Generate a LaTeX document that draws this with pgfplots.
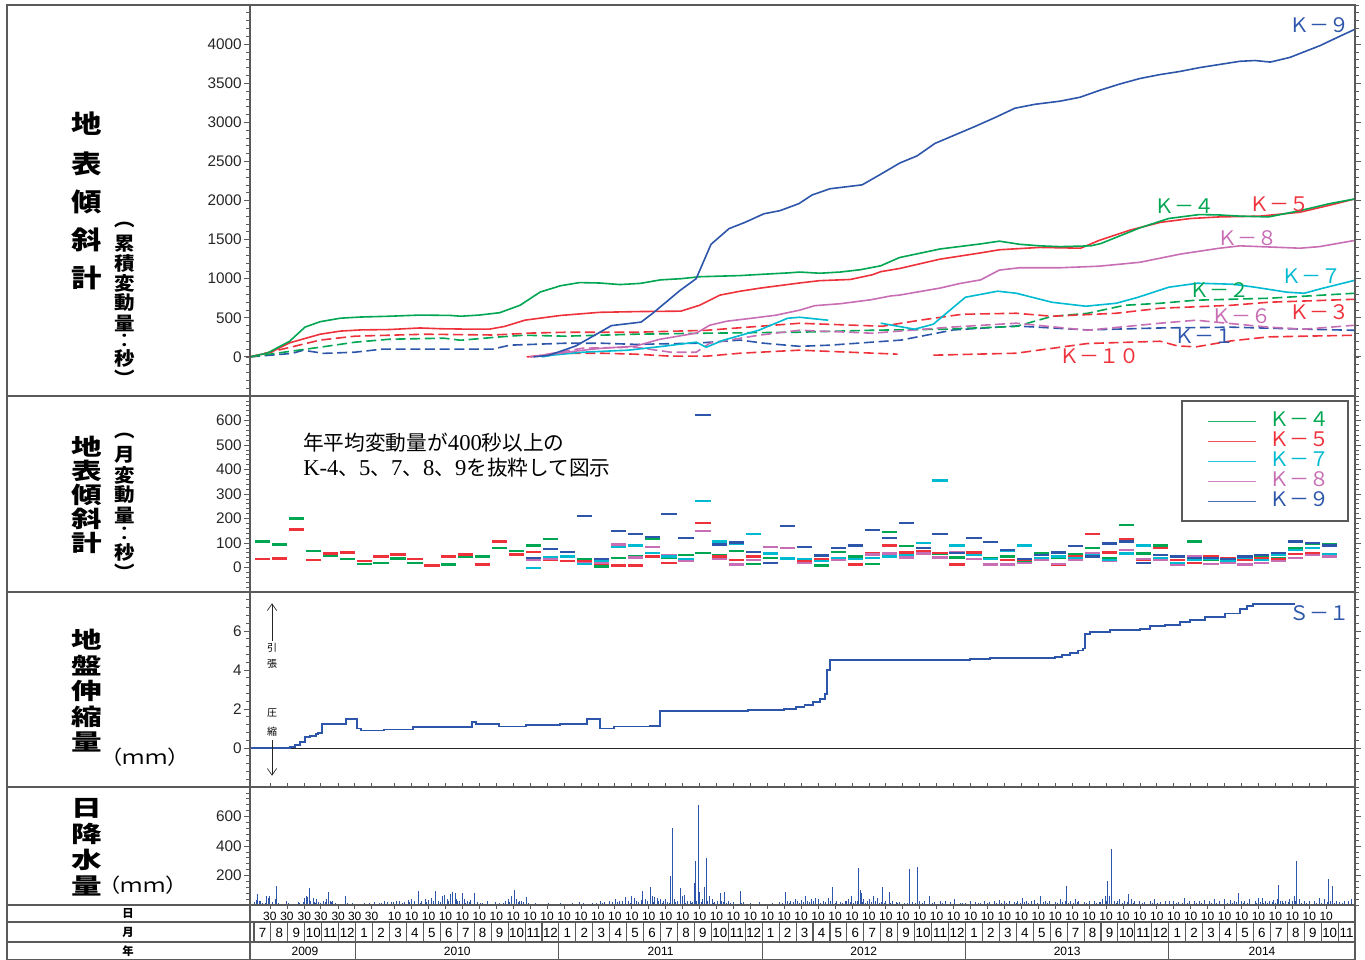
\documentclass[border=0pt]{standalone}
\usepackage{fontspec}
\setmainfont{Liberation Sans}
\newfontfamily\cjk{Noto Sans CJK JP}
\newfontfamily\serif{Liberation Serif}
\usepackage{graphicx}
\usepackage{pgfplots}
\usepackage{pgfplotstable}
\pgfplotsset{compat=1.18}
\usetikzlibrary{arrows.meta,plotmarks}

\definecolor{cg}{RGB}{0,166,81}
\definecolor{cr}{RGB}{238,50,60}
\definecolor{cc}{RGB}{0,186,210}
\definecolor{cp}{RGB}{200,110,180}
\definecolor{cb}{RGB}{45,85,170}
\definecolor{fr}{RGB}{90,90,90}

\pgfplotstableread{
x k4 k5 k7 k8 k9
0.5 106 33 nan nan nan
1.5 94 37 nan nan nan
2.5 200 155 nan nan nan
3.5 69 29 nan nan nan
4.5 49 57 nan nan nan
5.5 33 61 nan nan nan
6.5 16 25 nan nan nan
7.5 20 45 nan nan nan
8.5 37 53 nan nan nan
9.5 20 33 nan nan nan
10.5 10 8 nan nan nan
11.5 12 45 nan nan nan
12.5 45 53 nan nan nan
13.5 45 12 nan nan nan
14.5 78 106 nan nan nan
15.5 69 53 nan nan nan
16.5 90 63 -2 30 39
17.5 116 29 43 35 76
18.5 45 25 45 45 65
19.5 35 25 16 20 210
20.5 4 16 25 20 33
21.5 40 8 82 94 150
22.5 45 8 90 41 135
23.5 116 45 60 82 125
24.5 41 20 45 50 218
25.5 50 30 35 25 120
26.5 60 182 271 149 622
27.5 50 45 106 33 94
28.5 69 29 98 12 102
29.5 16 45 135 29 65
30.5 40 20 57 82 20
31.5 33 35 37 78 169
32.5 30 25 33 20 82
33.5 8 33 25 28 49
34.5 65 29 40 30 78
35.5 45 12 35 33 90
36.5 16 57 40 53 153
37.5 145 90 45 57 120
38.5 86 61 50 41 182
39.5 61 69 100 57 78
40.5 57 60 355 41 137
41.5 41 12 90 65 60
42.5 57 61 50 35 120
43.5 40 12 33 12 104
44.5 45 29 69 12 73
45.5 25 30 90 20 33
46.5 57 30 40 30 50
47.5 40 12 45 16 61
48.5 53 45 40 30 86
49.5 78 137 50 57 45
50.5 40 61 30 25 98
51.5 173 116 57 70 106
52.5 57 30 90 33 20
53.5 90 78 40 30 50
54.5 30 29 20 12 45
55.5 106 20 30 45 40
56.5 30 45 35 16 40
57.5 25 40 25 20 35
58.5 30 30 40 12 45
59.5 45 40 30 20 50
60.5 40 35 50 25 60
61.5 80 55 70 40 106
62.5 95 60 80 50 100
63.5 95 50 55 45 90
}\monthly

\pgfplotstableread{
x y
0.05 20
0.12 35
0.18 78
0.30 25
0.50 15
0.75 60
0.85 45
0.94 60
1.10 20
1.25 40
1.30 132
1.45 15
1.70 10
1.90 25
2.30 10
2.70 15
2.90 20
3.00 50
3.07 60
3.15 55
3.25 112
3.35 30
3.48 50
3.60 15
3.80 20
4.10 25
4.30 40
4.37 85
4.50 30
4.66 30
4.80 15
5.10 10
5.37 60
5.60 10
5.80 15
6.20 10
6.50 15
6.80 12
7.10 20
7.40 15
7.70 25
7.90 18
8.10 20
8.40 30
8.60 25
8.90 20
9.10 35
9.30 40
9.50 25
9.68 98
9.90 30
10.10 40
10.30 35
10.50 50
10.74 92
10.90 30
11.10 60
11.27 70
11.40 40
11.60 75
11.69 85
11.87 80
12.00 30
12.28 82
12.40 40
12.60 25
12.80 35
12.99 80
13.20 20
13.50 15
13.80 25
14.00 10
14.23 20
14.50 15
14.82 30
15.00 40
15.20 60
15.35 105
15.50 40
15.70 30
15.90 20
16.06 55
16.30 10
16.60 15
17.00 10
17.40 12
17.80 10
18.10 15
18.40 10
18.80 12
19.24 20
19.60 10
20.00 15
20.43 25
20.70 20
21.00 25
21.31 40
21.60 30
21.90 55
22.10 30
22.30 60
22.49 45
22.70 20
22.96 98
23.10 40
23.38 125
23.50 60
23.67 55
23.80 45
23.97 40
24.20 30
24.40 20
24.60 200
24.68 525
24.80 40
25.00 30
25.15 112
25.30 60
25.44 70
25.60 25
25.74 30
25.90 20
26.00 150
26.09 300
26.21 675
26.30 90
26.50 40
26.60 120
26.74 322
26.90 60
27.04 40
27.20 20
27.51 80
27.60 30
27.80 85
28.00 25
28.30 20
28.69 98
28.90 20
29.30 15
29.60 10
29.87 20
30.20 10
30.60 15
31.00 20
31.35 85
31.50 30
31.70 25
31.94 40
32.10 30
32.30 35
32.53 60
32.70 30
32.90 40
33.12 50
33.30 40
33.60 30
33.90 50
34.18 119
34.40 30
34.60 20
34.89 30
35.00 25
35.10 40
35.30 60
35.50 30
35.71 248
35.80 100
35.89 80
36.00 40
36.20 30
36.36 40
36.60 60
36.80 50
37.13 119
37.30 30
37.49 90
37.70 25
37.90 20
38.13 20
38.40 15
38.72 241
38.90 20
39.14 261
39.30 30
39.60 25
39.90 60
40.20 20
40.50 30
40.80 25
41.10 20
41.38 40
41.70 15
42.00 15
42.27 25
42.60 20
42.90 15
43.15 30
43.40 20
43.70 25
44.04 35
44.30 30
44.63 30
44.90 20
45.10 25
45.34 50
45.60 30
45.90 25
46.10 35
46.46 64
46.70 30
46.99 30
47.30 20
47.60 40
47.99 132
48.20 30
48.47 40
48.70 25
49.00 20
49.35 30
49.60 25
49.94 20
50.10 40
50.25 60
50.41 166
50.50 60
50.65 383
50.80 30
51.00 30
51.12 40
51.40 25
51.65 78
51.80 40
52.00 30
52.30 30
52.60 20
52.90 25
53.19 40
53.50 20
53.80 25
54.07 30
54.30 25
54.60 20
54.96 45
55.20 30
55.50 25
55.84 30
56.10 35
56.40 25
56.73 40
57.00 30
57.30 40
57.62 35
57.90 30
58.15 80
58.30 25
58.50 30
58.80 40
59.10 30
59.30 45
59.51 50
59.70 30
59.98 30
60.20 35
60.40 40
60.51 139
60.70 30
60.90 25
61.16 40
61.40 60
61.57 295
61.70 40
62.00 30
62.34 30
62.60 25
62.93 50
63.20 40
63.46 173
63.70 126
63.90 30
64.10 20
64.40 30
64.60 25
64.82 40
}\rain

\pgfplotstableread{
x y
0.40 30
0.65 12
1.05 10
1.55 8
2.05 12
2.45 8
2.60 18
3.55 22
3.70 40
3.90 12
4.20 18
4.55 20
4.90 10
5.25 8
5.50 12
5.90 8
6.35 8
6.65 10
7.25 10
7.55 12
8.25 18
8.75 12
9.20 20
9.80 15
10.20 22
10.60 28
11.00 20
11.50 25
11.95 40
12.15 30
12.50 15
12.70 20
13.10 10
13.35 12
13.65 10
14.35 8
14.70 12
15.10 20
15.60 18
15.80 25
16.20 12
16.80 8
17.20 6
17.60 8
18.25 8
18.60 10
19.00 8
19.45 12
19.80 8
20.20 12
20.60 15
20.90 10
21.15 18
21.45 20
21.75 25
22.20 15
22.60 25
22.85 35
23.25 30
23.60 20
23.90 25
24.10 15
24.30 40
24.50 15
24.90 20
25.20 25
25.50 15
25.80 12
26.15 30
26.40 20
26.80 25
27.10 15
27.35 30
27.70 20
27.90 15
28.15 12
28.45 10
28.80 12
29.10 8
29.45 10
29.75 8
30.40 8
30.80 10
31.20 12
31.60 15
31.85 20
32.20 12
32.45 20
32.80 18
33.00 25
33.45 15
33.75 20
34.05 25
34.30 15
34.75 12
35.20 20
35.40 15
35.60 25
35.95 20
36.10 15
36.45 20
36.70 25
36.90 12
37.05 20
37.20 15
37.60 12
37.80 10
38.00 12
38.30 8
38.55 12
38.80 10
39.05 15
39.45 12
39.75 10
40.05 12
40.35 8
40.65 12
40.95 10
41.25 8
41.55 10
41.85 12
42.15 8
42.45 10
42.75 12
43.05 8
43.30 12
43.55 10
43.85 15
44.15 12
44.45 15
44.75 10
45.00 12
45.25 15
45.50 20
45.75 12
46.00 10
46.25 15
46.60 20
46.85 12
47.15 10
47.45 15
47.75 20
47.90 25
48.10 15
48.35 12
48.60 20
48.85 10
49.15 12
49.50 10
49.75 15
50.00 20
50.35 25
50.90 15
51.25 12
51.55 20
51.90 15
52.15 10
52.45 12
52.75 10
53.05 15
53.35 12
53.65 10
53.95 8
54.20 10
54.45 12
54.80 15
55.10 12
55.35 10
55.65 15
55.95 12
56.25 10
56.55 15
56.85 12
57.15 10
57.45 15
57.75 12
58.00 20
58.40 15
58.65 12
58.95 10
59.20 15
59.40 20
59.60 12
59.85 15
60.10 20
60.30 12
60.60 25
60.80 15
61.05 20
61.30 25
61.50 30
61.85 15
62.15 12
62.45 10
62.75 15
63.05 12
63.35 20
63.55 25
63.80 15
64.00 10
64.25 12
64.50 8
64.70 10
64.95 12
}\rainb

\tikzset{lab/.style={font=\cjk\fontsize{15}{15}\selectfont, inner sep=0pt},
  big/.style={inner sep=0pt, font=\cjk\bfseries\fontsize{19}{19}\selectfont},
  bigb/.style={inner sep=0pt, font=\cjk\bfseries\fontsize{17}{17}\selectfont},
  sml/.style={inner sep=0pt, font=\cjk\bfseries\fontsize{14}{14}\selectfont}}
\pgfplotsset{
  panel/.style={
    scale only axis, width=828.75pt, xmin=-0.24, xmax=65,
    anchor=north west,
    axis line style={fr, line width=0.9pt},
    xtick=\empty,
    tick align=outside,
    major tick length=4.5pt, minor tick length=3pt,
    every tick/.append style={fr, line width=0.6pt},
    every minor tick/.append style={fr, line width=0.5pt},
    yticklabel style={font=\fontsize{11.5}{12}\selectfont, text=black!85, inner sep=1.5pt},
    /pgf/number format/assume math mode=true,
    /pgf/number format/1000 sep={},
    unbounded coords=jump,
  },
  cum/.style={line width=1.2pt},
  dsh/.style={line width=1.2pt, dash pattern=on 7.5pt off 3.5pt},
  mon/.style={only marks, mark=-, mark size=5.7pt, mark options={line width=1.6pt, solid}},
}

\begin{document}
\begin{tikzpicture}
\useasboundingbox (0,0) rectangle (1023.75pt,-720pt);

% ---------- panel 1: cumulative tilt ----------
\begin{axis}[panel, at={(187.5pt,-3.75pt)}, height=293.25pt,
  ymin=-500, ymax=4500, ytick={0,500,...,4000}, minor ytick={-500,-400,...,4500}]
\addplot[dsh, cb] coordinates {(-0.24,0) (2.25,45) (2.9,85) (4.1,45) (5.95,60) (7.6,100) (10.1,100) (14.1,100) (15.1,150) (18.4,175) (20.5,175) (22.5,160) (26.1,175) (28.7,215) (30.1,175) (32.2,135) (34.0,150) (38.2,215) (41.3,345) (45.0,395) (49.2,345) (53.5,370) (57.7,380) (62.0,355) (65,340)};
\addplot[dsh, cg] coordinates {(-0.24,0) (3.9,124) (5.96,188) (8.0,226) (11.2,239) (12.2,213) (14.3,252) (15.9,277) (18.4,265) (22.5,290) (26.7,303) (32.2,316) (36.5,341) (40.7,354) (45.0,390) (47.1,518) (49.2,557) (51.4,660) (53.5,686) (55.6,725) (59.9,750) (65,814)};
\addplot[dsh, cr] coordinates {(-0.24,0) (3.9,215) (5.96,265) (10.1,290) (14.1,280) (16.4,305) (18.4,315) (22.5,315) (26.7,340) (32.2,430) (37.1,392) (39.3,469) (41.8,545) (45.0,558) (47.1,520) (49.1,540) (50.9,558) (53.5,622) (57.7,660) (59.9,699) (65,737)};
\addplot[dsh, cp] coordinates {(16.35,0) (19.4,111) (22.5,124) (24.6,60) (26.1,60) (26.9,175) (29.8,277) (32.2,341) (36.5,303) (41.1,380) (45.0,431) (49.2,341) (53.5,431) (55.6,469) (59.9,380) (62.0,354) (65,405)};
\addplot[dsh, cr] coordinates {(16.1,0) (18.4,47) (20.5,47) (22.5,35) (24.6,9) (26.7,9) (28.7,47) (32.2,86) (38.0,35) (39.0,nan) (40.1,22) (45.0,47) (49.2,171) (53.5,200) (54.5,141) (55.6,128) (57.7,205) (59.9,256) (65,277)};
\addplot[cum, cc] coordinates {(17.0,0) (17.6,22) (19.4,60) (22.1,86) (24.2,137) (26.1,188) (26.7,124) (27.7,213) (29.8,341) (31.5,494) (32.2,507) (33.9,469) (35.0,nan) (37.0,431) (39.0,354) (40.1,418) (42.0,763) (43.9,840) (45.0,814) (47.1,699) (49.1,648) (50.9,686) (52.2,763) (54.0,891) (55.7,942) (57.8,929) (59.1,891) (61.0,827) (62.0,814) (63.1,878) (65,980)};
\addplot[cum, cp] coordinates {(16.3,0) (19.4,85) (20.5,110) (22.5,137) (23.97,226) (26.1,303) (26.9,405) (27.9,456) (29.4,495) (30.8,533) (32.2,597) (33.1,655) (34.6,680) (36.4,730) (37.6,780) (38.1,790) (40.5,880) (41.7,940) (42.9,985) (44.0,1110) (45.2,1140) (47.6,1140) (49.9,1160) (52.3,1210) (54.7,1315) (57.0,1390) (58.2,1420) (60.0,1405) (61.75,1390) (62.9,1410) (65,1490)};
\addplot[cum, cr] coordinates {(-0.24,0) (1.0,60) (2.1,180) (3.9,290) (5.1,330) (6.3,345) (8.0,350) (9.8,370) (11.0,360) (12.6,355) (13.9,355) (14.8,390) (16.0,470) (18.1,530) (20.4,570) (22.8,580) (25.2,585) (26.3,660) (27.5,790) (28.7,840) (29.9,880) (32.2,945) (33.4,975) (35.2,990) (36.5,1050) (37.0,1090) (38.1,1130) (40.5,1250) (42.9,1330) (44.0,1370) (46.4,1400) (48.8,1390) (49.9,1490) (51.7,1620) (53.5,1720) (55.3,1770) (57.0,1790) (59.4,1800) (61.75,1850) (63.5,1940) (65,2020)};
\addplot[cum, cg] coordinates {(-0.24,0) (0.8,50) (2.1,200) (3.0,380) (3.9,450) (5.1,495) (6.3,510) (8.0,520) (9.8,535) (11.6,530) (12.2,520) (13.3,535) (14.5,565) (15.7,660) (16.9,830) (18.1,910) (19.2,950) (20.4,945) (21.6,925) (22.8,940) (24.0,985) (25.2,1000) (26.3,1025) (28.7,1040) (29.9,1055) (31.6,1075) (32.2,1085) (33.4,1070) (34.6,1085) (35.8,1115) (37.0,1165) (38.1,1270) (40.5,1380) (42.9,1445) (44.0,1480) (45.2,1440) (46.4,1420) (47.6,1410) (49.4,1420) (50.0,1450) (52.3,1650) (54.0,1770) (55.8,1820) (57.0,1815) (58.2,1800) (59.9,1790) (61.75,1870) (63.5,1960) (65,2020)};
\addplot[cum, cb] coordinates {(16.5,0) (17.4,20) (19.0,140) (21.1,400) (22.85,445) (23.55,560) (25.15,850) (26.1,1000) (26.98,1440) (28.04,1640) (28.98,1720) (30.1,1830) (31.05,1870) (32.17,1960) (32.94,2070) (34.0,2150) (35.9,2200) (36.95,2330) (38.13,2480) (39.14,2570) (40.2,2730) (41.4,2840) (42.6,2950) (43.74,3060) (44.92,3180) (46.1,3230) (47.58,3270) (48.76,3320) (49.94,3410) (51.12,3490) (52.3,3560) (53.48,3610) (54.66,3650) (55.84,3700) (57.02,3740) (58.2,3780) (59.1,3790) (60.0,3770) (61.16,3830) (62.93,3980) (64.1,4100) (65,4190)};
\node[lab, text=cb] at (axis cs:62.93,4240) {Ｋ－９};
\node[lab, text=cg] at (axis cs:54.96,1930) {Ｋ－４};
\node[lab, text=cr] at (axis cs:60.57,1950) {Ｋ－５};
\node[lab, text=cp] at (axis cs:58.68,1517) {Ｋ－８};
\node[lab, text=cc] at (axis cs:62.46,1031) {Ｋ－７};
\node[lab, text=cg] at (axis cs:57.02,852) {Ｋ－２};
\node[lab, text=cp] at (axis cs:58.32,520) {Ｋ－６};
\node[lab, text=cr] at (axis cs:62.93,571) {Ｋ－３};
\node[lab, text=cb] at (axis cs:56.14,265) {Ｋ－１};
\node[lab, text=cr] at (axis cs:49.94,9) {Ｋ－１０};
\end{axis}

% ---------- panel 2: monthly change ----------
\begin{axis}[panel, at={(187.5pt,-297pt)}, height=147pt,
  ymin=-100, ymax=700, ytick={0,100,...,600}, minor ytick={-100,-80,...,700},
  legend style={at={(0.9937,0.9745)}, anchor=north east, draw=none, fill=white,
    inner xsep=14pt, inner ysep=7.5pt,
    font=\cjk\fontsize{15}{15}\selectfont,
    nodes={inner sep=0pt, text height=11.5pt, text depth=3.5pt}},
  legend cell align=left]
\addplot[mon, cg, forget plot] table[x=x, y=k4] {\monthly};
\addplot[mon, cr, forget plot] table[x=x, y=k5] {\monthly};
\addplot[mon, cp, forget plot] table[x=x, y=k8] {\monthly};
\addplot[mon, cc, forget plot] table[x=x, y=k7] {\monthly};
\addplot[mon, cb, forget plot] table[x=x, y=k9] {\monthly};
\addlegendimage{legend image code/.code={\draw[draw=cg!85, line width=0.8pt] (0pt,0pt) -- (36pt,0pt);}}
\addlegendentry{\hspace*{9.5pt}\textcolor{cg}{Ｋ－４}}
\addlegendimage{legend image code/.code={\draw[draw=cr!85, line width=0.8pt] (0pt,0pt) -- (36pt,0pt);}}
\addlegendentry{\hspace*{9.5pt}\textcolor{cr}{Ｋ－５}}
\addlegendimage{legend image code/.code={\draw[draw=cc!85, line width=0.8pt] (0pt,0pt) -- (36pt,0pt);}}
\addlegendentry{\hspace*{9.5pt}\textcolor{cc}{Ｋ－７}}
\addlegendimage{legend image code/.code={\draw[draw=cp!85, line width=0.8pt] (0pt,0pt) -- (36pt,0pt);}}
\addlegendentry{\hspace*{9.5pt}\textcolor{cp}{Ｋ－８}}
\addlegendimage{legend image code/.code={\draw[draw=cb!85, line width=0.8pt] (0pt,0pt) -- (36pt,0pt);}}
\addlegendentry{\hspace*{9.5pt}\textcolor{cb}{Ｋ－９}}
\end{axis}

% ---------- panel 3: extensometer ----------
\begin{axis}[panel, at={(187.5pt,-444pt)}, height=146.25pt,
  ymin=-2, ymax=8, ytick={0,2,4,6}, minor ytick={-2,-1.6,...,8}]
\draw[black!85, line width=0.6pt] (axis cs:-0.24,0) -- (axis cs:65,0);
\addplot[const plot, cb, line width=1.4pt] coordinates {(-0.24,0) (2.13,0.05) (2.42,0.15) (2.72,0.3) (3.01,0.55) (3.31,0.62) (3.66,0.72) (3.8,0.75) (4.01,1.22) (5.37,1.22) (5.45,1.5) (5.96,1.5) (6.08,1.0) (6.32,0.9) (7.67,0.95) (9.39,1.06) (12.87,1.32) (13.1,1.22) (14.46,1.1) (16.06,1.17) (18.06,1.25) (19.66,1.47) (20.43,1.0) (21.25,1.1) (23.38,1.14) (23.97,1.88) (29.16,1.93) (31.29,2.0) (32.0,2.1) (32.5,2.2) (33.0,2.35) (33.4,2.5) (33.7,2.75) (33.82,4.0) (34.0,4.5) (42.27,4.55) (43.45,4.6) (47.28,4.65) (47.7,4.75) (48.17,4.85) (48.64,5.0) (48.94,5.1) (49.06,5.85) (49.35,5.95) (50.53,6.05) (52.3,6.1) (52.9,6.25) (53.78,6.3) (54.66,6.45) (55.25,6.55) (56.14,6.7) (57.32,6.9) (58.2,7.15) (58.6,7.3) (59.0,7.38) (61.45,7.38)};
\node[font=\cjk\fontsize{15}{15}\selectfont, text=cb, inner sep=0pt] at (axis cs:62.93,6.9) {Ｓ－１};
\draw[black!85, line width=0.5pt, -{Straight Barb[length=5pt,width=7pt]}] (axis cs:1.06,5.5) -- (axis cs:1.06,7.42);
\draw[black!85, line width=0.5pt, -{Straight Barb[length=5pt,width=7pt]}] (axis cs:1.06,0.39) -- (axis cs:1.06,-1.42);
\node[font=\cjk\fontsize{7.5}{7.5}\selectfont, inner sep=0pt] at (axis cs:1.06,5.16) {引};
\node[font=\cjk\fontsize{7.5}{7.5}\selectfont, inner sep=0pt] at (axis cs:1.06,4.29) {張};
\node[font=\cjk\fontsize{7.5}{7.5}\selectfont, inner sep=0pt] at (axis cs:1.06,1.78) {圧};
\node[font=\cjk\fontsize{7.5}{7.5}\selectfont, inner sep=0pt] at (axis cs:1.06,0.86) {縮};
\end{axis}

% ---------- panel 4: daily rainfall ----------
\begin{axis}[panel, at={(187.5pt,-590.25pt)}, height=88.5pt,
  ymin=0, ymax=800, ytick={200,400,600}, minor ytick={0,40,...,800},
  xtick={0.935,1.94,2.97,3.94,4.97,5.94,6.94,8.3,9.3,...,63.3},
  xticklabels={30,30,30,30,30,30,30,10,10,10,10,10,10,10,10,10,10,10,10,10,10,10,10,10,10,10,10,10,10,10,10,10,10,10,10,10,10,10,10,10,10,10,10,10,10,10,10,10,10,10,10,10,10,10,10,10,10,10,10,10,10,10,10},
  xtick style={/pgfplots/major tick length=3pt},
  xticklabel style={font=\fontsize{9}{9}\selectfont, text=black, inner sep=1pt}]
\addplot[ycomb, cb, line width=0.75pt] table[x=x, y=y] {\rain};
\addplot[ycomb, cb, line width=0.75pt] table[x=x, y=y] {\rainb};
\end{axis}

% ---------- frame, labels, table ----------
\begin{scope}[x=0.75pt, y=-0.75pt]
\draw[fr, line width=1pt] (7,5) rectangle (1355,959.5);
\draw[fr, line width=1pt] (1182,401) rectangle (1348,521);
\foreach \yy in {396,592,787,905,922,942} \draw[fr, line width=1pt] (7,\yy) -- (1355,\yy);
\draw[fr, line width=1pt] (250,5) -- (250,960);
\foreach \k in {0,...,65} \draw[fr, line width=0.8pt] ({254+16.94*\k},922) -- ({254+16.94*\k},942);
\foreach \k in {6,18,30,42,54} \draw[fr, line width=0.8pt] ({254+16.94*\k},942) -- ({254+16.94*\k},960);
\foreach \k in {0,...,64} {\pgfmathtruncatemacro\mm{mod(\k+6,12)+1}
  \node[font=\fontsize{10}{10}\selectfont, inner sep=0pt] at ({254+16.94*(\k+0.5)},932.5) {\mm};}
\foreach \yr/\xc in {2009/305, 2010/457.3, 2011/660.6, 2012/863.8, 2013/1067.1, 2014/1262}
  \node[font=\fontsize{9}{9}\selectfont, inner sep=0pt] at (\xc,951.5) {\yr};
\node[font=\cjk\bfseries\fontsize{8.5}{9}\selectfont, inner sep=0pt] at (128,913.5) {日};
\node[font=\cjk\bfseries\fontsize{8.5}{9}\selectfont, inner sep=0pt] at (128,932.5) {月};
\node[font=\cjk\bfseries\fontsize{8.5}{9}\selectfont, inner sep=0pt] at (128,951.5) {年};
% panel titles
\foreach \c/\yy in {地/124, 表/164, 傾/202, 斜/240, 計/278}
  \node[big] at (87,\yy) {\scalebox{1.2}[1]{\c}};
\foreach \c/\yy in {︵/225, 累/244, 積/263, 変/283, 動/303, 量/323, ︰/341, 秒/358, ︶/378}
  \node[sml] at (125,\yy) {\scalebox{1.1}[1]{\c}};
\foreach \c/\yy in {地/447, 表/471, 傾/495, 斜/519, 計/543}
  \node[bigb] at (87,\yy) {\scalebox{1.35}[1]{\c}};
\foreach \c/\yy in {︵/436, 月/455, 変/475, 動/495, 量/515, ︰/534, 秒/552, ︶/572}
  \node[sml] at (125,\yy) {\scalebox{1.1}[1]{\c}};
\foreach \c/\yy in {地/640, 盤/665.5, 伸/691, 縮/716.5, 量/742}
  \node[bigb] at (87,\yy) {\scalebox{1.35}[1]{\c}};
\node[inner sep=0pt] at (145,757) {\cjk\fontsize{14.5}{14.5}\selectfont\scalebox{1.15}[1]{（ｍｍ）}};
\foreach \c/\yy in {日/808, 降/834, 水/860, 量/886}
  \node[bigb] at (87,\yy) {\scalebox{1.35}[1]{\c}};
\node[inner sep=0pt] at (143,885) {\cjk\fontsize{14.5}{14.5}\selectfont\scalebox{1.15}[1]{（ｍｍ）}};
\node[anchor=west, inner sep=0pt, align=left, font=\cjk\fontsize{15.5}{18.75}\selectfont] at (303,455.5) {年平均変動量が{\serif\fontsize{17}{18}\selectfont 400}秒以上の\\{\serif\fontsize{17}{18}\selectfont K-4}、{\serif\fontsize{17}{18}\selectfont 5}、{\serif\fontsize{17}{18}\selectfont 7}、{\serif\fontsize{17}{18}\selectfont 8}、{\serif\fontsize{17}{18}\selectfont 9}を抜粋して図示};
\end{scope}
\end{tikzpicture}
\end{document}
